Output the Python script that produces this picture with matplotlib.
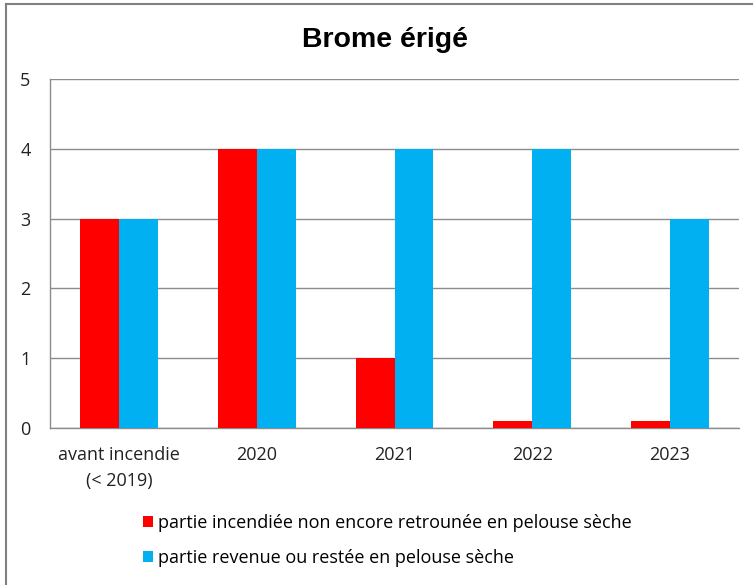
import matplotlib
matplotlib.use("Agg")
import numpy as np
import matplotlib.pyplot as plt
from matplotlib.lines import Line2D

# data
categories = ["avant incendie\n(< 2019)", "2020", "2021", "2022", "2023"]
burnt_not_back = [3, 4, 1, 0.1, 0.1]
back_or_kept = [3, 4, 4, 4, 3]
labels = [
    "partie incendiée non encore retrounée en pelouse sèche",
    "partie revenue ou restée en pelouse sèche",
]

RED = "#ff0000"
BLUE = "#00b0f0"
GRID = "#8c8c8c"
TICK_FONT = ["Open Sans", "DejaVu Sans"]
FS = 13

W, H = 753, 585
fig = plt.figure(figsize=(W / 100, H / 100), dpi=100)

# outer chart frame: only the left and top sides are in the picture
fx, fy = 6 / W, 1 - 4 / H
fig.lines.append(Line2D([fx, fx], [0, fy], transform=fig.transFigure,
                        color="#808080", linewidth=1.5))
fig.lines.append(Line2D([fx, 1], [fy, fy], transform=fig.transFigure,
                        color="#808080", linewidth=1.5))

ax = fig.add_axes([50 / W, 1 - 428 / H, (739 - 50) / W, (428 - 79) / H])

x = np.arange(len(categories))
bw = 0.283
ax.bar(x - bw / 2, burnt_not_back, width=bw, color=RED, label=labels[0], zorder=3)
ax.bar(x + bw / 2, back_or_kept, width=bw, color=BLUE, label=labels[1], zorder=3)

ax.set_xlim(-0.5, len(categories) - 0.5)
ax.set_ylim(0, 5)
ax.set_yticks(range(6))
ax.yaxis.grid(True, color=GRID, linewidth=1, zorder=0)
ax.set_axisbelow(True)

for side in ("top", "right"):
    ax.spines[side].set_visible(False)
for side in ("left", "bottom"):
    ax.spines[side].set_color(GRID)
    ax.spines[side].set_linewidth(1)

ax.set_xticks(x)
ax.set_xticklabels(categories, family=TICK_FONT, fontsize=FS, color="#222222",
                   linespacing=1.6)
for t in ax.get_yticklabels():
    t.set_family(TICK_FONT)
    t.set_fontsize(FS)
    t.set_color("#222222")
ax.tick_params(axis="both", length=0)
ax.tick_params(axis="y", pad=14)
ax.tick_params(axis="x", pad=13)

fig.text(385 / W, 1 - 40 / H, "Brome érigé", ha="center", va="center",
         family=["Liberation Sans", "DejaVu Sans"], fontweight="bold", fontsize=20.5)

fig.legend(
    loc="upper left", bbox_to_anchor=(143 / W, 1 - 514 / H),
    frameon=False, borderpad=0, borderaxespad=0,
    handlelength=0.55, handleheight=0.55, handletextpad=0.3,
    labelspacing=0.95, prop={"family": TICK_FONT, "size": FS},
)

fig.savefig("out.png", dpi=100)
